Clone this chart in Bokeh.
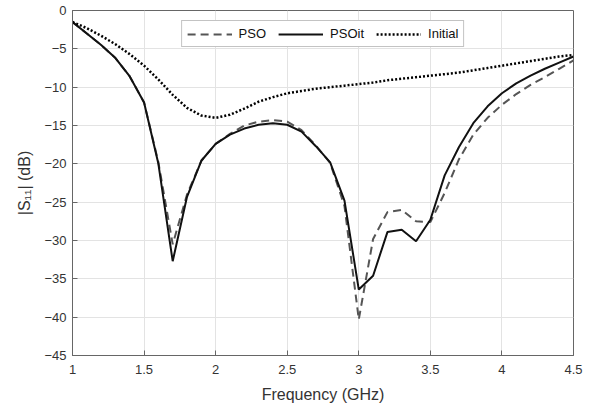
from bokeh.plotting import figure
from bokeh.models import FixedTicker, Legend, LegendItem, Range1d
from bokeh.embed import file_html
from bokeh.resources import INLINE

freq = [1.0, 1.1, 1.2, 1.3, 1.4, 1.5, 1.6, 1.7, 1.8, 1.9, 2.0, 2.1, 2.2, 2.3, 2.4, 2.5,
        2.6, 2.7, 2.8, 2.9, 3.0, 3.1, 3.2, 3.3, 3.4, 3.5, 3.6, 3.7, 3.8, 3.9, 4.0, 4.1,
        4.2, 4.3, 4.4, 4.5]

pso = [-1.5, -3.0, -4.5, -6.2, -8.6, -12.0, -19.8, -30.5, -24.0, -19.6, -17.4, -16.1,
       -15.0, -14.5, -14.3, -14.5, -15.6, -17.6, -19.9, -25.5, -40.3, -29.8, -26.3, -26.0,
       -27.5, -27.6, -23.8, -19.4, -16.2, -14.0, -12.3, -10.9, -9.7, -8.7, -7.6, -6.5]

psoit = [-1.5, -3.0, -4.5, -6.2, -8.6, -12.0, -20.0, -32.7, -24.3, -19.6, -17.4, -16.2,
         -15.4, -14.9, -14.7, -14.9, -15.8, -17.7, -19.8, -24.8, -36.4, -34.6, -28.9, -28.6,
         -30.1, -27.3, -21.5, -17.8, -14.7, -12.5, -10.8, -9.5, -8.5, -7.6, -6.8, -6.0]

initial = [-1.5, -2.3, -3.3, -4.4, -5.7, -7.2, -9.0, -11.0, -12.7, -13.7, -14.0, -13.6,
           -12.8, -11.9, -11.3, -10.8, -10.5, -10.2, -10.0, -9.8, -9.6, -9.4, -9.1, -8.9,
           -8.7, -8.5, -8.3, -8.1, -7.8, -7.5, -7.2, -6.9, -6.6, -6.3, -6.0, -5.8]

x_ticks = [1, 1.5, 2, 2.5, 3, 3.5, 4, 4.5]
x_tick_labels = ["1", "1.5", "2", "2.5", "3", "3.5", "4", "4.5"]
y_ticks = [-45, -40, -35, -30, -25, -20, -15, -10, -5, 0]

FONT = "Liberation Sans"
AXC = "#666666"
TXC = "#333333"

p = figure(width=588, height=405, output_backend="svg", toolbar_location=None,
           x_range=Range1d(1, 4.5), y_range=Range1d(-45, 0),
           min_border_left=72, min_border_right=15, min_border_top=10, min_border_bottom=47,
           background_fill_color="white", border_fill_color="white")
p.outline_line_color = AXC
p.outline_line_width = 1

for ax in (p.xaxis[0], p.yaxis[0]):
    ax.axis_line_color = AXC
    ax.major_tick_line_color = AXC
    ax.major_tick_in = 5
    ax.major_tick_out = 0
    ax.minor_tick_line_color = None
    ax.major_label_text_font = FONT
    ax.major_label_text_font_size = "13px"
    ax.major_label_text_color = TXC
    ax.axis_label_text_font = FONT
    ax.axis_label_text_font_size = "16px"
    ax.axis_label_text_font_style = "normal"
    ax.axis_label_text_color = TXC

p.xaxis[0].ticker = FixedTicker(ticks=x_ticks)
p.xaxis[0].major_label_overrides = {t: l for t, l in zip(x_ticks, x_tick_labels)}
p.yaxis[0].ticker = FixedTicker(ticks=y_ticks)
p.xaxis[0].axis_label = "Frequency (GHz)"
p.yaxis[0].axis_label = "|S\u2081\u2081| (dB)"
p.xaxis[0].major_label_standoff = 9
p.yaxis[0].major_label_standoff = 6
p.xaxis[0].axis_label_standoff = 9
p.yaxis[0].axis_label_standoff = 8

p.xgrid.ticker = FixedTicker(ticks=x_ticks)
p.ygrid.ticker = FixedTicker(ticks=y_ticks)
p.grid.grid_line_color = "#e3e3e3"
p.grid.grid_line_width = 1

r_pso = p.line(freq, pso, line_color="#555555", line_width=2, line_dash="8 5")
r_psoit = p.line(freq, psoit, line_color="#111111", line_width=2)
r_init = p.line(freq, initial, line_color="#000000", line_width=2.5, line_dash="2 2")

legend = Legend(items=[LegendItem(label="PSO", renderers=[r_pso]),
                       LegendItem(label="PSOit", renderers=[r_psoit]),
                       LegendItem(label="Initial", renderers=[r_init])],
                orientation="horizontal", location="top_center",
                glyph_width=45, glyph_height=14, label_standoff=7, spacing=12,
                padding=5, margin=10,
                label_text_font=FONT, label_text_font_size="13px", label_text_color="#111111",
                border_line_color="#888888", border_line_width=1,
                background_fill_color="white", background_fill_alpha=1)
p.add_layout(legend, "center")

open("out.html", "w").write(file_html(p, INLINE))
